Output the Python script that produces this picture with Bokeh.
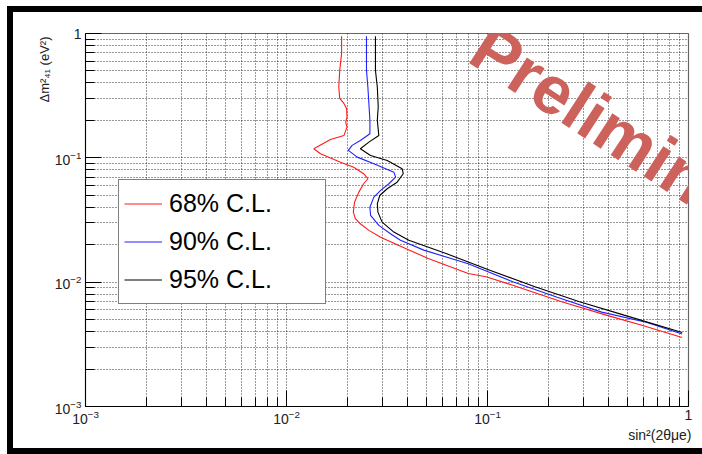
from bokeh.plotting import figure
from bokeh.models import (Range1d, FixedTicker, Legend, LegendItem, Label, Title,
                          LogTickFormatter)
from bokeh.embed import file_html
from bokeh.resources import INLINE

# ---------------- data ----------------
red_x = [0.0188, 0.0188, 0.0184, 0.0182, 0.0184, 0.0193, 0.0199, 0.0200, 0.0197, 0.0200,
         0.0193, 0.01655, 0.01367, 0.01476, 0.01857, 0.0216, 0.0242, 0.0254, 0.0242, 0.0229,
         0.0218, 0.0215, 0.0220, 0.0233, 0.0257, 0.0294, 0.0317, 0.0374, 0.0507, 0.0802,
         0.0983, 0.1335, 0.234, 0.3895, 0.586, 0.93]
red_y = [0.95, 0.692, 0.505, 0.371, 0.301, 0.274, 0.249, 0.212, 0.1936, 0.1766,
         0.151, 0.1406, 0.1183, 0.1079, 0.0923, 0.0841, 0.0745, 0.0679, 0.0619, 0.0530,
         0.0440, 0.0366, 0.0324, 0.0295, 0.0261, 0.0230, 0.0217, 0.0193, 0.0155, 0.01175,
         0.01105, 0.00946, 0.00696, 0.00543, 0.00451, 0.00359]

blue_x = [0.0250, 0.0250, 0.0254, 0.0257, 0.0260, 0.0260, 0.0233, 0.0212, 0.0203, 0.0225,
          0.0272, 0.0342, 0.0349, 0.0323, 0.0294, 0.0272, 0.0260, 0.0262, 0.0288, 0.0329,
          0.0369, 0.0482, 0.0802, 0.1335, 0.2222, 0.370, 0.616, 0.93]
blue_y = [0.95, 0.505, 0.371, 0.272, 0.200, 0.156, 0.138, 0.1259, 0.1147, 0.1013,
          0.0897, 0.0767, 0.0700, 0.0619, 0.0547, 0.0483, 0.0401, 0.0344, 0.0286, 0.0245,
          0.0217, 0.0181, 0.01406, 0.01007, 0.00757, 0.00574, 0.00476, 0.00383]

black_x = [0.0277, 0.0277, 0.0283, 0.0286, 0.0283, 0.0288, 0.0257, 0.0233, 0.0262, 0.0317,
           0.0376, 0.0381, 0.0355, 0.0317, 0.0291, 0.0283, 0.0285, 0.0299, 0.0342, 0.0406,
           0.0622, 0.1035, 0.1723, 0.287, 0.478, 0.93]
black_y = [0.95, 0.505, 0.371, 0.256, 0.200, 0.151, 0.1337, 0.1183, 0.1045, 0.0953,
           0.0817, 0.0745, 0.0637, 0.0564, 0.0498, 0.0427, 0.0366, 0.0304, 0.0253, 0.0217,
           0.0170, 0.0124, 0.00918, 0.00696, 0.00543, 0.00394]

series_labels = ["68% C.L.", "90% C.L.", "95% C.L."]
x_title = "sin²(2θμe)"
y_title = "Δm²₄₁ (eV²)"
watermark = "Preliminary"
major_ticks = [1e-3, 1e-2, 1e-1, 1.0]
minor_ticks = [m * 10.0 ** e for e in (-3, -2, -1) for m in range(2, 10)]

# ---------------- layout ----------------
W, H = 702, 454
FL, FR, FT, FB = 85, 688, 33, 406   # frame edges (canvas px)
FONT = "Liberation Sans"

p = figure(width=W, height=H, x_axis_type="log", y_axis_type="log",
           x_range=Range1d(1e-3, 1.0), y_range=Range1d(1e-3, 1.0),
           output_backend="svg", toolbar_location=None,
           min_border_left=FL, min_border_right=W - FR,
           min_border_top=FT, min_border_bottom=H - FB)
p.background_fill_color = "white"
p.border_fill_color = None
p.outline_line_color = "#666666"
p.outline_line_width = 1.2
# thick black slide border drawn as the page element's background
p.styles = {
    "background-color": "white",
    "background-image": "linear-gradient(#000,#000), linear-gradient(#000,#000), linear-gradient(#000,#000)",
    "background-position": "7px 6px, 7px 6px, 7px 448px",
    "background-size": "6px 448px, 700px 6px, 700px 6px",
    "background-repeat": "no-repeat",
}

for ax, grid in ((p.xaxis[0], p.xgrid[0]), (p.yaxis[0], p.ygrid[0])):
    tk = FixedTicker(ticks=major_ticks, minor_ticks=minor_ticks)
    ax.ticker = tk
    grid.ticker = tk
    ax.formatter = LogTickFormatter()
    ax.major_label_overrides = {1.0: "1"}
    ax.major_tick_in = 16
    ax.major_tick_out = 0
    ax.minor_tick_in = 9
    ax.minor_tick_out = 0
    ax.axis_line_color = "black"
    ax.major_tick_line_color = "black"
    ax.minor_tick_line_color = "black"
    ax.major_label_text_font = FONT
    ax.major_label_text_font_size = "14px"
    ax.major_label_text_color = "#222222"
    ax.major_label_standoff = 5
    grid.grid_line_color = "black"
    grid.grid_line_alpha = 0.8
    grid.grid_line_dash = "1 2"
    grid.minor_grid_line_color = "black"
    grid.minor_grid_line_alpha = 0.8
    grid.minor_grid_line_dash = "1 2"
p.xaxis[0].major_label_standoff = 3
p.yaxis[0].major_label_standoff = 4

r1 = p.line(red_x, red_y, line_color="#ff1a1a", line_width=1.1)
r2 = p.line(blue_x, blue_y, line_color="#2020ff", line_width=1.1)
r3 = p.line(black_x, black_y, line_color="black", line_width=1.1)

legend = Legend(items=[LegendItem(label=series_labels[0], renderers=[r1]),
                       LegendItem(label=series_labels[1], renderers=[r2]),
                       LegendItem(label=series_labels[2], renderers=[r3])])
legend.location = (118 - FL, FB - 304)
legend.margin = 0
legend.padding = 5
legend.spacing = 1
legend.glyph_width = 38
legend.glyph_height = 37
legend.label_height = 37
legend.label_width = 151
legend.label_standoff = 7
legend.border_line_color = "black"
legend.border_line_width = 1.2
legend.background_fill_color = "white"
legend.background_fill_alpha = 1.0
legend.label_text_font = FONT
legend.label_text_font_size = "25px"
legend.label_text_color = "black"
p.add_layout(legend)

# axis titles (ROOT style: at the far end of each axis)
p.add_layout(Title(text=x_title, align="right", vertical_align="top", offset=-3,
                   standoff=0, text_font=FONT, text_font_size="14px",
                   text_font_style="normal", text_color="#222222"), "below")
p.add_layout(Title(text=y_title, align="right", vertical_align="bottom", offset=3,
                   standoff=0, text_font=FONT, text_font_size="13px",
                   text_font_style="normal", text_color="#222222"), "left")

# watermark
p.add_layout(Label(x=478 - FL, y=FB - 40, x_units="screen", y_units="screen",
                   text=watermark, angle=-33, angle_units="deg",
                   text_align="left", text_baseline="alphabetic",
                   text_font=FONT, text_font_size="68px", text_font_style="bold",
                   text_color="#cd625d"))

open("out.html", "w").write(file_html(p, INLINE))
